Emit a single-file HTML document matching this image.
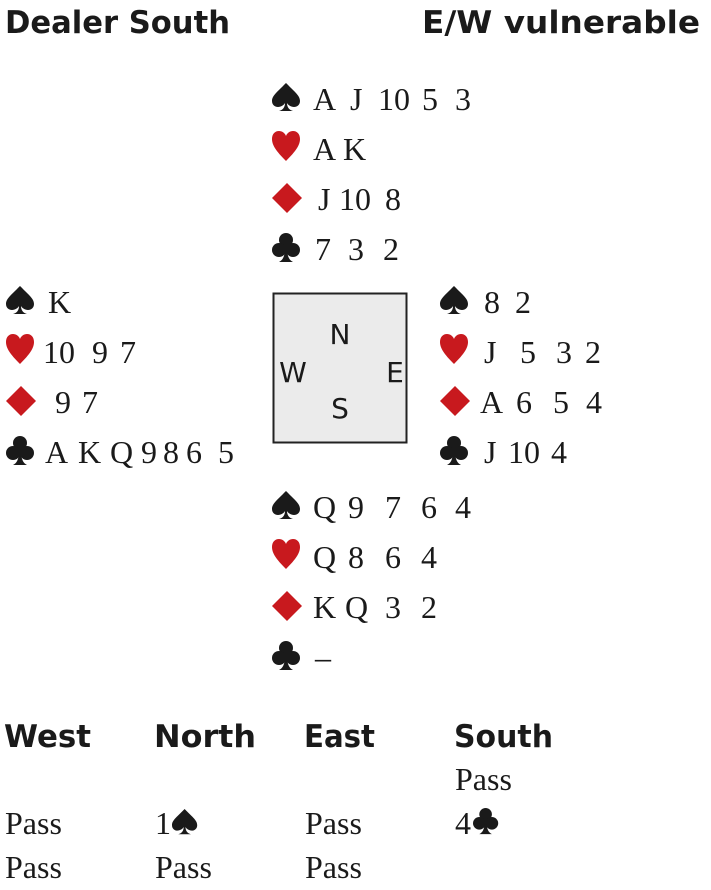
<!DOCTYPE html>
<html><head><meta charset="utf-8"><style>
html,body{margin:0;padding:0;background:#fff;width:711px;height:890px;overflow:hidden}
svg{display:block}
.h{font-family:"DejaVu Sans","Liberation Sans",sans-serif;font-weight:bold;font-size:31px;fill:#1a1a1a}
.t{font-family:"Liberation Serif",serif;font-size:32px;fill:#1a1a1a}
.c{font-family:"DejaVu Sans","Liberation Sans",sans-serif;font-size:28px;fill:#1a1a1a}
.k{fill:#1a1a1a}.r{fill:#c8191e}
</style></head><body>
<svg width="711" height="890" viewBox="0 0 711 890" xmlns="http://www.w3.org/2000/svg">
<defs>
<path id="sp" d="M14 0 C24 10 28 13 28 18 C28 22 25 24 22 24 C19 24 16 22 15 20 C15 24 17 27 21 28 L7 28 C11 27 13 24 13 20 C12 22 9 24 6 24 C3 24 0 22 0 18 C0 13 4 10 14 0Z"/>
<path id="he" d="M14 30 C4 20 0 14 0 8 C0 3 3 0 7 0 C10 0 13 2 14 5 C15 2 18 0 21 0 C25 0 28 3 28 8 C28 14 24 20 14 30Z"/>
<path id="di" d="M15 0 L30 15 L15 30 L0 15Z"/>
<g id="cl"><circle cx="14" cy="7" r="7"/><circle cx="7" cy="17" r="7"/><circle cx="21" cy="17" r="7"/><path d="M13 14 L15 14 C15 23 17 27 21 29 L7 29 C11 27 13 23 13 14Z"/><rect x="11" y="12" width="6" height="6"/></g>
</defs>
<text class="h" x="5" y="33" textLength="225" lengthAdjust="spacingAndGlyphs">Dealer South</text>
<text class="h" x="422" y="33" textLength="278" lengthAdjust="spacingAndGlyphs">E/W vulnerable</text>

<!-- North -->
<use href="#sp" class="k" x="272" y="83"/>
<text class="t" y="110"><tspan x="313">A</tspan><tspan x="350">J</tspan><tspan x="378">10</tspan><tspan x="422">5</tspan><tspan x="455">3</tspan></text>
<use href="#he" class="r" x="272" y="131"/>
<text class="t" y="160"><tspan x="313">A</tspan><tspan x="343">K</tspan></text>
<use href="#di" class="r" x="272" y="183"/>
<text class="t" y="210"><tspan x="318">J</tspan><tspan x="339">10</tspan><tspan x="385">8</tspan></text>
<use href="#cl" class="k" x="272" y="233"/>
<text class="t" y="260"><tspan x="315">7</tspan><tspan x="348">3</tspan><tspan x="383">2</tspan></text>

<!-- West -->
<use href="#sp" class="k" x="6" y="286"/>
<text class="t" y="313"><tspan x="48">K</tspan></text>
<use href="#he" class="r" x="6" y="334"/>
<text class="t" y="363"><tspan x="43">10</tspan><tspan x="92">9</tspan><tspan x="120">7</tspan></text>
<use href="#di" class="r" x="6" y="386"/>
<text class="t" y="413"><tspan x="55">9</tspan><tspan x="82">7</tspan></text>
<use href="#cl" class="k" x="6" y="436"/>
<text class="t" y="463"><tspan x="45">A</tspan><tspan x="78">K</tspan><tspan x="110">Q</tspan><tspan x="141">9</tspan><tspan x="163">8</tspan><tspan x="186">6</tspan><tspan x="218">5</tspan></text>

<!-- Box -->
<rect x="273.5" y="293.5" width="133" height="149" fill="#ebebeb" stroke="#222" stroke-width="2"/>
<text class="c" x="340" y="344" text-anchor="middle">N</text>
<text class="c" x="293" y="382" text-anchor="middle">W</text>
<text class="c" x="395" y="382" text-anchor="middle">E</text>
<text class="c" x="340" y="418" text-anchor="middle">S</text>

<!-- East -->
<use href="#sp" class="k" x="440" y="286"/>
<text class="t" y="313"><tspan x="484">8</tspan><tspan x="515">2</tspan></text>
<use href="#he" class="r" x="440" y="334"/>
<text class="t" y="363"><tspan x="484">J</tspan><tspan x="520">5</tspan><tspan x="556">3</tspan><tspan x="585">2</tspan></text>
<use href="#di" class="r" x="440" y="386"/>
<text class="t" y="413"><tspan x="480">A</tspan><tspan x="516">6</tspan><tspan x="553">5</tspan><tspan x="586">4</tspan></text>
<use href="#cl" class="k" x="440" y="436"/>
<text class="t" y="463"><tspan x="484">J</tspan><tspan x="508">10</tspan><tspan x="551">4</tspan></text>

<!-- South -->
<use href="#sp" class="k" x="272" y="491"/>
<text class="t" y="518"><tspan x="313">Q</tspan><tspan x="348">9</tspan><tspan x="385">7</tspan><tspan x="421">6</tspan><tspan x="455">4</tspan></text>
<use href="#he" class="r" x="272" y="539"/>
<text class="t" y="568"><tspan x="313">Q</tspan><tspan x="348">8</tspan><tspan x="385">6</tspan><tspan x="421">4</tspan></text>
<use href="#di" class="r" x="272" y="591"/>
<text class="t" y="618"><tspan x="313">K</tspan><tspan x="345">Q</tspan><tspan x="385">3</tspan><tspan x="421">2</tspan></text>
<use href="#cl" class="k" x="272" y="641"/>
<text class="t" y="668"><tspan x="315">–</tspan></text>

<!-- Bidding -->
<text class="h" x="4" y="747" textLength="87" lengthAdjust="spacingAndGlyphs">West</text>
<text class="h" x="154" y="747" textLength="102" lengthAdjust="spacingAndGlyphs">North</text>
<text class="h" x="304" y="747" textLength="71" lengthAdjust="spacingAndGlyphs">East</text>
<text class="h" x="454" y="747" textLength="99" lengthAdjust="spacingAndGlyphs">South</text>

<text class="t" x="455" y="790">Pass</text>
<text class="t" x="5" y="834">Pass</text>
<text class="t" x="155" y="834">1</text>
<use href="#sp" class="k" x="172" y="809" transform="translate(172 809) scale(0.9) translate(-172 -809)"/>
<text class="t" x="305" y="834">Pass</text>
<text class="t" x="455" y="834">4</text>
<use href="#cl" class="k" x="473" y="808" transform="translate(473 808) scale(0.9) translate(-473 -808)"/>
<text class="t" x="5" y="878">Pass</text>
<text class="t" x="155" y="878">Pass</text>
<text class="t" x="305" y="878">Pass</text>
</svg>
</body></html>
